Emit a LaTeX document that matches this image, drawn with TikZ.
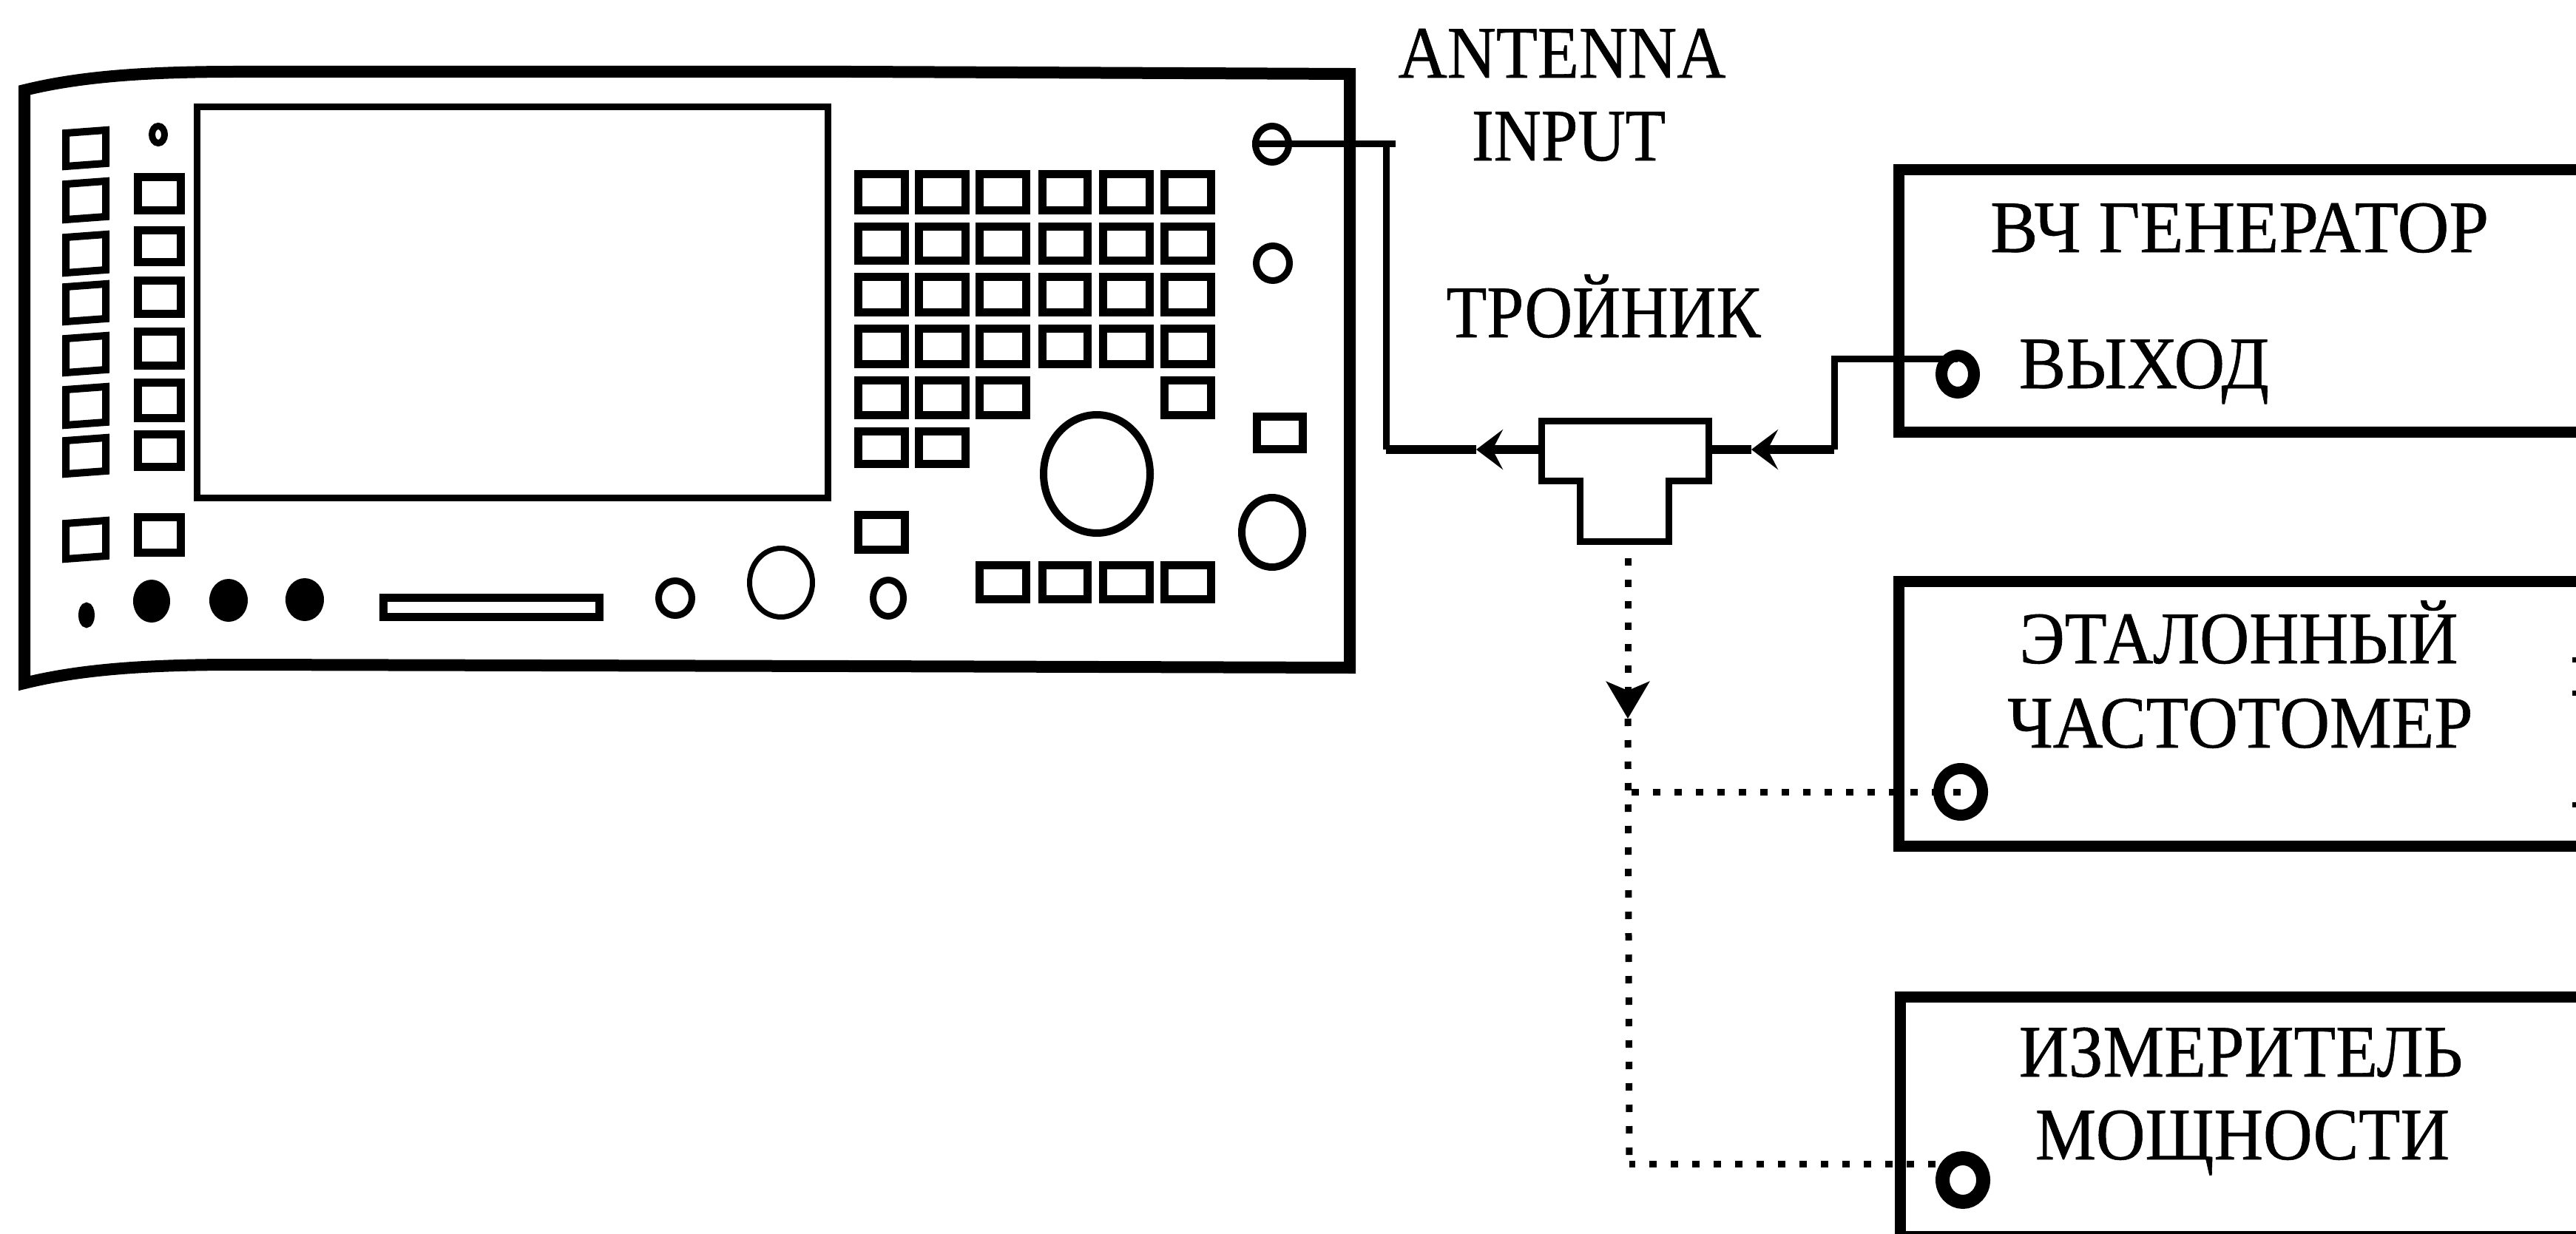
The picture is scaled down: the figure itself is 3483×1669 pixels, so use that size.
\documentclass[tikz,border=0pt]{standalone}
\usepackage{fontspec}
\usepackage{graphicx}
\setmainfont[FakeBold=0.6]{Liberation Serif}
\usetikzlibrary{arrows.meta,shapes.geometric}
\tikzset{
  panelline/.style={line width=16pt,line join=miter},
  boxline/.style={line width=15pt,line join=miter},
  screenline/.style={line width=9pt,line join=miter},
  key/.style={line width=11pt,line join=miter},
  tiltkey/.style={line width=10pt,line join=miter},
  wire/.style={line width=9pt,line join=miter},
  wirethick/.style={line width=12pt},
  dots/.style={line width=9pt,dash pattern=on 10pt off 19pt},
  lefthead/.style={-{Stealth[length=36pt,width=54pt,inset=14pt]}},
  downhead/.style={-{Stealth[length=50pt,width=58pt,inset=12pt]}},
  lbl/.style={anchor=base,inner sep=0pt,outer sep=0pt,font=\fontsize{100}{100}\selectfont},
}
\newcommand{\ringnode}[6]{\node[ellipse,draw,inner sep=0pt,line width=#6pt,minimum width={(2*#4-#6)*1pt},minimum height={(2*#5-#6)*1pt}] (#1) at (#2,#3) {};}
\newcommand{\keybox}[4]{\draw[key] ({#1+5},{#2+5}) rectangle ({#3-5},{#4-5});}
\newcommand{\tiltbox}[4]{\draw[tiltkey] ({#1+5},{#2+8}) -- ({#3-5},{#2+4}) -- ({#3-5},{#4-8}) -- ({#1+5},{#4-4}) -- cycle;}
\newcommand{\lab}[5]{\node[lbl] (#1) at (#2,#3) {\resizebox{#4pt}{\height}{#5}};}
\begin{document}
\begin{tikzpicture}[x=1pt,y=-1pt]
\useasboundingbox (0,0) rectangle (3483,1669);
\clip (0,0) rectangle (3483,1669);
\fill[white] (0,0) rectangle (3483,1669);
% instrument panel
\draw[panelline] (33,122) .. controls (110,103) and (200,97) .. (320,97) -- (1150,97) -- (1825,100) -- (1825,903) -- (1150,901) -- (320,899) .. controls (200,899) and (110,905) .. (33,924) -- cycle;
\draw[screenline] (266,145) rectangle (1119,673);
% left keys, first column
\foreach \a/\b in {172/229,241/301,313/373,380/439,450/508,519/579,588/645,700/760}{\tiltbox{84}{\a}{148}{\b}}
% left keys, second column
\foreach \a/\b in {235/290,307/360,375/429,443/499,512/570,582/636,694/752}{\keybox{181}{\a}{249}{\b}}
\ringnode{ledtop}{214}{182}{13}{16}{9}
\ringnode{ledlow}{117}{832}{11}{17}{11}
\fill (205,813) ellipse (25 and 29);
\fill (309,812) ellipse (26 and 29);
\fill (412,811) ellipse (26 and 29);
\draw[key] (518,808) rectangle (810,834);
\ringnode{ringa}{913}{809}{27}{28}{9}
\ringnode{ringb}{1056}{788}{46}{50}{7}
% keypad
\foreach \a/\b in {231/290,302/358,370/427,439/497}{
  \foreach \c/\d in {1155/1228,1237/1310,1319/1392,1404/1475,1486/1559,1569/1642}{\keybox{\c}{\a}{\d}{\b}}}
\foreach \c/\d in {1155/1228,1237/1310,1319/1392,1569/1642}{\keybox{\c}{509}{\d}{566}}
\foreach \c/\d in {1155/1228,1237/1310}{\keybox{\c}{578}{\d}{632}}
\keybox{1155}{691}{1228}{748}
\foreach \c/\d in {1319/1392,1404/1475,1486/1559,1569/1642}{\keybox{\c}{759}{\d}{815}}
\ringnode{wheel}{1483}{641}{77}{85}{10}
\ringnode{ringc}{1201}{809}{25}{29}{9}
\ringnode{ant}{1720}{195}{27}{29}{9}
\ringnode{ringd}{1721}{356}{27}{28}{9}
\keybox{1694}{558}{1766}{612}
\ringnode{ringe}{1720}{720}{46}{52}{10}
% boxes, open at the picture's right edge
\draw[boxline] (3483,230) -- (2567,230) -- (2567,584) -- (3483,584);
\draw[boxline] (3483,786) -- (2567,786) -- (2567,1144) -- (3483,1144);
\draw[boxline] (3483,1348) -- (2569,1348) -- (2569,1672) -- (3483,1672);
\fill (3478,889) rectangle (3483,896);
\fill (3478,934) rectangle (3483,941);
\fill (3478,1085) rectangle (3483,1092);
% rings on the boxes
\ringnode{gen}{2647}{506}{30}{33}{16}
\ringnode{freq}{2651}{1071}{37}{39}{15}
\ringnode{pow}{2654}{1596}{37}{39}{19}
% tee
\coordinate (teeL) at (2084,608);
\coordinate (teeR) at (2310,608);
\coordinate (teeB) at (2201,732);
\draw[wire] (2084,569) -- (2310,569) -- (2310,650) -- (2256,650) -- (2256,732) -- (2136,732) -- (2136,650) -- (2084,650) -- cycle;
% solid connectors
\coordinate (antstub) at (1887,195);
\coordinate (antcorner) at (1874,195);
\coordinate (antlow) at (1874,608);
\coordinate (tipL) at (1996,608);
\draw[wire] (ant.west) -- (antstub);
\draw[wire] (antcorner) -- (antlow);
\draw[wirethick,lefthead] (teeL) -- (tipL);
\draw[wirethick] (tipL) -- (antlow);
\coordinate (genlow) at (2480,608);
\coordinate (genhigh) at (2480,485);
\coordinate (tipR) at (2368,608);
\draw[wirethick,lefthead] (genlow) -- (tipR);
\draw[wirethick] (tipR) -- (teeR);
\draw[wire] (genlow) -- (genhigh) -- (genhigh -| gen.north);
% dotted connectors
\coordinate (dotstart) at (2201,755);
\coordinate (tipD) at (2201,972);
\coordinate (dotjoin) at (2201,1071);
\coordinate (dotend) at (2203,1574);
\draw[dots,downhead] (dotstart) -- (tipD);
\draw[dots] (tipD) -- (dotend);
\draw[dots] (freq.center) -- (dotjoin);
\draw[dots] (2617,1574) -- (dotend);
% labels
\lab{antenna}{2112}{105}{443}{ANTENNA}
\lab{input}{2121}{217}{262}{INPUT}
\lab{tee}{2168}{456}{425}{ТРОЙНИК}
\lab{genname}{3028}{341}{674}{ВЧ ГЕНЕРАТОР}
\lab{genout}{2899}{525}{338}{ВЫХОД}
\lab{freqa}{3027}{897}{593}{ЭТАЛОННЫЙ}
\lab{freqb}{3029}{1011}{629}{ЧАСТОТОМЕР}
\lab{powa}{3030}{1456}{600}{ИЗМЕРИТЕЛЬ}
\lab{powb}{3032}{1568}{560}{МОЩНОСТИ}
\end{tikzpicture}
\end{document}
